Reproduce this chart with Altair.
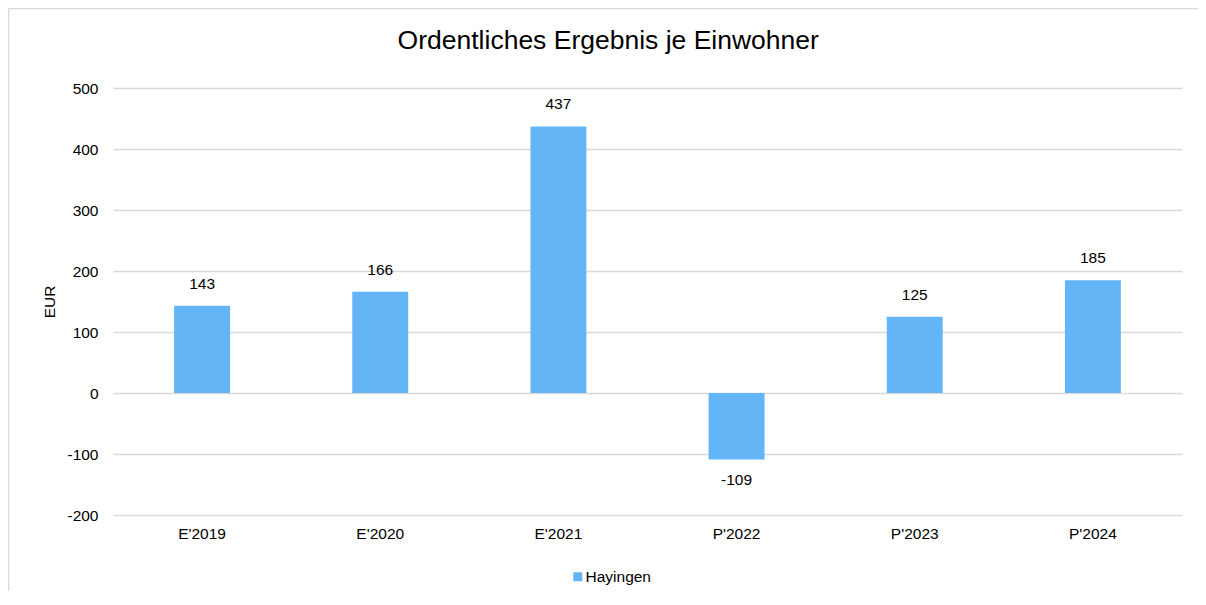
import altair as alt
import pandas as pd

categories = ["E'2019", "E'2020", "E'2021", "P'2022", "P'2023", "P'2024"]
values = [143, 166, 437, -109, 125, 185]
series_name = "Hayingen"
y_ticks = [-200, -100, 0, 100, 200, 300, 400, 500]

df = pd.DataFrame({
    "Jahr": categories,
    "EUR": values,
    "Gemeinde": [series_name] * len(categories),
    "label": [str(v) for v in values],
})

FONT = "Liberation Sans"
BAR = "#64B5F6"
FS = 15.5
FRAME = "#d9d9d9"

x = alt.X(
    "Jahr:N", sort=categories,
    scale=alt.Scale(paddingInner=0, paddingOuter=0),
    axis=alt.Axis(title=None, labelAngle=0, domain=False, ticks=False,
                  labelPadding=11, labelFontSize=FS, labelColor="#000",
                  labelFont=FONT, grid=False),
)
y = alt.Y(
    "EUR:Q",
    scale=alt.Scale(domain=[-200, 500], nice=False, zero=False),
    axis=alt.Axis(values=y_ticks, title="EUR", labelExpr="'' + datum.value",
                  domain=False, ticks=False, labelPadding=15, grid=True,
                  gridColor="#d9d9d9", gridWidth=1.5, labelFontSize=FS,
                  labelColor="#000", labelFont=FONT, titleFontSize=FS,
                  titleFont=FONT, titleFontWeight="normal", titleColor="#000",
                  titlePadding=9),
)

bars = alt.Chart(df).mark_bar(width={"band": 0.314}).encode(
    x=x, y=y,
    color=alt.Color(
        "Gemeinde:N",
        scale=alt.Scale(domain=[series_name], range=[BAR]),
        legend=alt.Legend(title=None, orient="none", legendX=457, legendY=481,
                          symbolType="square", symbolSize=81,
                          symbolStrokeWidth=0, labelFontSize=FS,
                          labelFont=FONT, labelColor="#000", labelOffset=0,
                          padding=0),
    ),
)

pos = alt.Chart(df).transform_filter("datum.EUR >= 0").mark_text(
    dy=-22, fontSize=FS, font=FONT, color="#000"
).encode(x=x, y=y, text="label:N")

neg = alt.Chart(df).transform_filter("datum.EUR < 0").mark_text(
    dy=21, fontSize=FS, font=FONT, color="#000"
).encode(x=x, y=y, text="label:N")

# light frame around the chart (left and top edges)
frame_data = alt.Data(values=[{"f": 1}])
frame_left = alt.Chart(frame_data).mark_rule(color=FRAME, strokeWidth=1.5).encode(
    x=alt.value(-104.5), y=alt.value(-79.5), y2=alt.value(503)
)
frame_top = alt.Chart(frame_data).mark_rule(color=FRAME, strokeWidth=1.5).encode(
    x=alt.value(-104.5), x2=alt.value(1090), y=alt.value(-79.5)
)

chart = alt.layer(bars, pos, neg, frame_left, frame_top).properties(
    width=1069, height=427,
    title=alt.Title("Ordentliches Ergebnis je Einwohner", fontSize=26.5,
                    font=FONT, fontWeight="normal", color="#000",
                    anchor="middle", frame="bounds", baseline="bottom",
                    offset=-73.5, dx=2.5),
    padding={"left": 105, "top": 80, "right": 16, "bottom": 76},
    autosize=alt.AutoSizeParams(type="none"),
).configure_view(stroke=None)

chart.save("out.html", embed_options={"renderer": "svg", "actions": False})
